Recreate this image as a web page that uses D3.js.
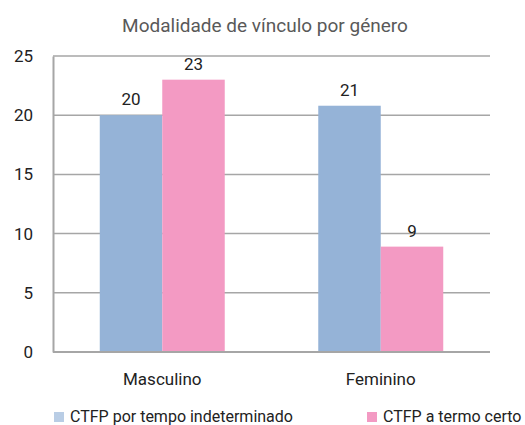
<!DOCTYPE html>
<html><head><meta charset="utf-8">
<script src="https://cdn.jsdelivr.net/npm/d3@7"></script>
<style>body{margin:0;background:#fff}svg{display:block;font-family:Roboto,"DejaVu Sans",sans-serif}</style>
</head><body><svg id="c" width="525" height="425"></svg>
<script>
const title = "Modalidade de vínculo por género";
const categories = ["Masculino", "Feminino"];
const seriesNames = ["CTFP por tempo indeterminado", "CTFP a termo certo"];
const indeterminado = [20, 20.8];
const termoCerto = [23, 8.9];
const yTicks = [0, 5, 10, 15, 20, 25];
const colors = ["#95b3d7", "#f39ac3"];

const svg = d3.select("#c");
const m = {l: 53, r: 35, t: 56, b: 73};
const W = 525, H = 425;
const x = d3.scaleBand().domain(categories).range([m.l, W - m.r]);
const y = d3.scaleLinear().domain([0, 25]).range([H - m.b, m.t]);
const barW = x.bandwidth() * 0.286;
const series = [indeterminado, termoCerto];

svg.append("text").attr("x", 265).attr("y", 32).attr("text-anchor", "middle")
  .attr("font-size", 19).attr("fill", "#595959").text(title);

// gridlines
svg.append("g").selectAll("line").data(yTicks.filter(d => d > 0)).join("line")
  .attr("x1", m.l).attr("x2", W - m.r).attr("y1", d => y(d)).attr("y2", d => y(d))
  .attr("stroke", "#a6a6a6").attr("stroke-width", 1.5);

// y axis
const ya = svg.append("g").attr("transform", `translate(${m.l},0)`)
  .call(d3.axisLeft(y).tickValues(yTicks).tickSize(0).tickPadding(20));
ya.select(".domain").attr("stroke", "#a6a6a6").attr("stroke-width", 2);
ya.selectAll("text").attr("font-size", 17).attr("fill", "#222").attr("font-family", "Roboto");

// bars
series.forEach((vals, si) => {
  const g = svg.append("g");
  g.selectAll("rect").data(categories).join("rect")
    .attr("x", (c) => x(c) + x.bandwidth() / 2 - barW + si * barW)
    .attr("width", barW)
    .attr("y", (c, i) => y(vals[i]))
    .attr("height", (c, i) => y(0) - y(vals[i]))
    .attr("fill", colors[si]);
  g.selectAll("text").data(categories).join("text")
    .attr("x", (c) => x(c) + x.bandwidth() / 2 - barW / 2 + si * barW)
    .attr("y", (c, i) => y(vals[i]) - 10)
    .attr("text-anchor", "middle").attr("font-size", 17).attr("fill", "#222")
    .text((c, i) => d3.format(".0f")(vals[i]));
});

// x axis baseline
svg.append("line").attr("x1", m.l).attr("x2", W - m.r).attr("y1", y(0)).attr("y2", y(0))
  .attr("stroke", "#a6a6a6").attr("stroke-width", 2);
const xa = svg.append("g").attr("transform", `translate(0,${y(0)})`)
  .call(d3.axisBottom(x).tickSize(0).tickPadding(21));
xa.select(".domain").remove();
xa.selectAll("text").attr("font-size", 17).attr("fill", "#222").attr("font-family", "Roboto");

// legend
const legX = [54, 367];
seriesNames.forEach((n, i) => {
  svg.append("rect").attr("x", legX[i]).attr("y", 412).attr("width", 10).attr("height", 10)
    .attr("fill", i === 0 ? "#b9cde5" : colors[1]);
  svg.append("text").attr("x", legX[i] + 16).attr("y", 422).attr("font-size", 16)
    .attr("fill", "#222").text(n);
});
</script></body></html>
